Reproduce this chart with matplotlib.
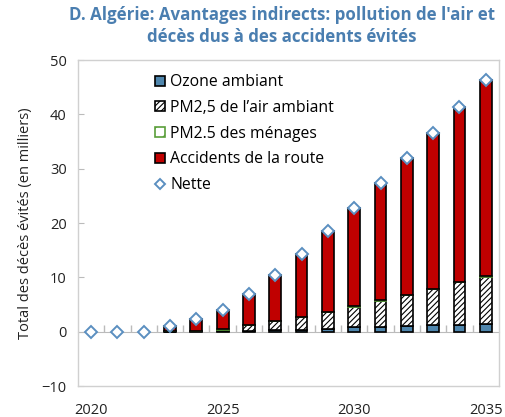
import matplotlib
matplotlib.use("Agg")
import matplotlib.pyplot as plt
import numpy as np

plt.rcParams['font.family'] = ['Open Sans', 'DejaVu Sans']
plt.rcParams['hatch.linewidth'] = 0.8

years = list(range(2020, 2036))
ozone = [0.0, 0.0, 0.0, 0.05, 0.1, 0.1, 0.2, 0.3, 0.4, 0.6, 0.8, 0.9, 1.0, 1.2, 1.3, 1.5]
pm_ambient = [0.0, 0.0, 0.0, 0.05, 0.1, 0.3, 1.0, 1.6, 2.3, 3.0, 3.8, 4.8, 5.7, 6.6, 7.8, 8.6]
pm_household = [0.0, 0.0, 0.0, 0.0, 0.0, 0.05, 0.05, 0.05, 0.05, 0.1, 0.1, 0.1, 0.1, 0.1, 0.1, 0.1]
net = [0.0, 0.0, 0.0, 1.1, 2.4, 4.0, 7.0, 10.5, 14.4, 18.5, 22.7, 27.3, 31.9, 36.5, 41.3, 46.3]
road = [n - o - a - h for n, o, a, h in zip(net, ozone, pm_ambient, pm_household)]
xlabels = ['2020', '', '', '', '', '2025', '', '', '', '', '2030', '', '', '', '', '2035']

fig = plt.figure(figsize=(5.06, 4.17), dpi=100)
ax = fig.add_axes([0.154, 0.074, 0.832, 0.782])

x = np.arange(len(years))
w = 0.45
b1 = np.array(ozone)
b2 = b1 + np.array(pm_ambient)
b3 = b2 + np.array(pm_household)

ax.bar(x, ozone, w, color='#4f86ad', edgecolor='black', linewidth=1.2, label='Ozone ambiant', zorder=2)
ax.bar(x, pm_ambient, w, bottom=b1, color='white', edgecolor='black', hatch='//////',
       linewidth=1.2, label="PM2,5 de l\u2019air ambiant", zorder=2)
ax.bar(x, pm_household, w, bottom=b2, color='white', edgecolor='#5a9e3a', hatch='//',
       linewidth=1.2, label='PM2.5 des ménages', zorder=2)
ax.bar(x, road, w, bottom=b3, color='#c00000', edgecolor='black', linewidth=1.2,
       label='Accidents de la route', zorder=2)
ax.plot(x, net, linestyle='none', marker='D', markersize=6.5, markerfacecolor='white',
        markeredgecolor='#5b8fc0', markeredgewidth=1.4, label='Nette', zorder=3)

ax.set_xlim(-0.5, len(years) - 0.5)
ax.set_ylim(-10, 50)
ax.set_yticks(range(-10, 51, 10))
ax.set_xticks(x)
ax.set_xticklabels(xlabels)
ax.tick_params(axis='x', length=0, pad=12, labelsize=10.5, colors='#222222')
ax.tick_params(axis='y', direction='in', length=4, color='#bbbbbb', labelsize=10.5,
               labelcolor='#222222', pad=8)
for s in ax.spines.values():
    s.set_color('#d0d0d0')
    s.set_linewidth(1.0)

# axis line at zero with category-boundary ticks
sec = ax.secondary_xaxis(0, transform=ax.transData)
sec.set_xticks(x[:-1] + 0.5)
sec.set_xticklabels([])
sec.tick_params(direction='in', length=5, color='#bbbbbb', width=1)
sec.spines['bottom'].set_color('#bbbbbb')

ax.set_ylabel('Total des décès évités (en milliers)', fontsize=10.5, color='#222222', labelpad=6)
fig.text(0.557, 0.985, "D. Algérie: Avantages indirects: pollution de l'air et\ndécès dus à des accidents évités",
         ha='center', va='top', fontsize=12.2, fontweight='bold', color='#4a7eb0', linespacing=1.3)

handles, labels = ax.get_legend_handles_labels()
idx = [1, 2, 3, 4, 0]
leg = ax.legend([handles[i] for i in idx], [labels[i] for i in idx],
                loc='upper left', bbox_to_anchor=(0.15, 1.0), frameon=False, fontsize=11.3,
                handlelength=0.6, handleheight=0.6, handletextpad=0.35, labelspacing=0.62,
                markerscale=0.8)

fig.savefig('out.png', dpi=100)
